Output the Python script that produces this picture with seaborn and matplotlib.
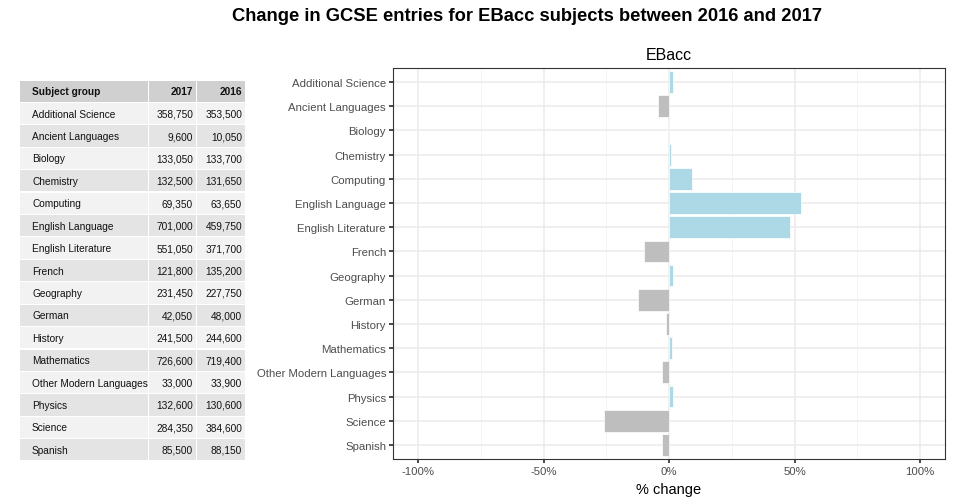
import numpy as np
import pandas as pd
import matplotlib
matplotlib.use("Agg")
import matplotlib.pyplot as plt
from matplotlib.patches import Rectangle
from matplotlib.ticker import MultipleLocator
import seaborn as sns

# Data
subjects = ['Additional Science', 'Ancient Languages', 'Biology', 'Chemistry', 'Computing',
            'English Language', 'English Literature', 'French', 'Geography', 'German',
            'History', 'Mathematics', 'Other Modern Languages', 'Physics', 'Science', 'Spanish']
entries_2017 = [358750, 9600, 133050, 132500, 69350, 701000, 551050, 121800, 231450, 42050,
                241500, 726600, 33000, 132600, 284350, 85500]
entries_2016 = [353500, 10050, 133700, 131650, 63650, 459750, 371700, 135200, 227750, 48000,
                244600, 719400, 33900, 130600, 384600, 88150]

df = pd.DataFrame({'subject': subjects, 'y2017': entries_2017, 'y2016': entries_2016})
df['pct'] = (df['y2017'] - df['y2016']) / df['y2016'] * 100
df['direction'] = np.where(df['pct'] >= 0, 'up', 'down')

sns.set_theme(style='whitegrid')
plt.rcParams['font.family'] = ['Liberation Sans', 'DejaVu Sans']

fig = plt.figure(figsize=(9.76, 5.02), dpi=100)
fig.suptitle('Change in GCSE entries for EBacc subjects between 2016 and 2017',
             x=0.54, y=0.985, fontsize=13.2, fontweight='bold', color='black')

# Bar chart
ax = fig.add_axes([0.4027, 0.0827, 0.5656, 0.7808])
sns.barplot(data=df, y='subject', x='pct', hue='direction', orient='h',
            palette={'up': '#ADD8E6', 'down': '#BEBEBE'}, width=0.9, saturation=1,
            edgecolor='white', linewidth=0.5, legend=False, dodge=False, ax=ax)
ax.set_xlim(-110, 110)
ax.set_ylim(len(subjects) - 0.4, -0.6)
ax.xaxis.set_minor_locator(MultipleLocator(25))
ax.set_xticks([-100, -50, 0, 50, 100])
ax.set_xticklabels(['-100%', '-50%', '0%', '50%', '100%'])
ax.grid(True, which='major', color='#EBEBEB', linewidth=1.1)
ax.grid(True, which='minor', axis='x', color='#F2F2F2', linewidth=0.6)
ax.set_axisbelow(True)
ax.tick_params(axis='both', which='major', labelsize=8.2, labelcolor='#4D4D4D',
               length=3, color='#333333', left=True, bottom=True, pad=2)
ax.tick_params(axis='x', which='minor', length=0)
for s in ax.spines.values():
    s.set_color('#333333')
    s.set_linewidth(0.8)
ax.set_ylabel('')
ax.set_xlabel('% change', fontsize=10.5, labelpad=4, color='black')
ax.set_title('EBacc', fontsize=11.5, pad=6, color='black')

# Table
tab = fig.add_axes([0.0205, 0.0797, 0.2305, 0.7589])
tab.set_xlim(0, 225)
tab.set_ylim(381, 0)
tab.axis('off')
col_edges = [(0, 128), (129, 176), (177, 225)]
row_h = 381 / 17
header = ['Subject group', '2017', '2016']
rows = [header] + [[s, f'{a:,}', f'{b:,}'] for s, a, b in zip(subjects, entries_2017, entries_2016)]
for i, row in enumerate(rows):
    y0 = i * row_h
    if i == 0:
        fc = '#D0D0D0'
    elif i % 2 == 1:
        fc = '#F2F2F2'
    else:
        fc = '#E4E4E4'
    for j, (x0, x1) in enumerate(col_edges):
        tab.add_patch(Rectangle((x0, y0 + 0.6), x1 - x0, row_h - 1.2, facecolor=fc, edgecolor='none'))
        weight = 'bold' if i == 0 else 'normal'
        if j == 0:
            tab.text(x0 + 12, y0 + row_h / 2, row[j], ha='left', va='center',
                     fontsize=7.3, fontweight=weight, color='#111111')
        else:
            tab.text(x1 - 3, y0 + row_h / 2, row[j], ha='right', va='center',
                     fontsize=7.3, fontweight=weight, color='#111111')

fig.savefig('out.png', dpi=100)
